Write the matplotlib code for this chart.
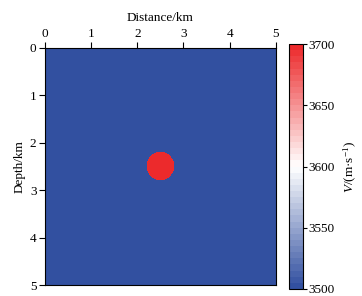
import numpy as np
import matplotlib.pyplot as plt
from matplotlib.colors import LinearSegmentedColormap

plt.rcParams['font.family'] = ['Liberation Serif', 'DejaVu Serif']
plt.rcParams['font.size'] = 9.5
plt.rcParams['mathtext.fontset'] = 'custom'
plt.rcParams['mathtext.rm'] = 'Liberation Serif'
plt.rcParams['mathtext.it'] = 'Liberation Serif:italic'

# model: homogeneous background with one circular anomaly (km, m/s)
v_background = 3500.0
v_anomaly = 3700.0
anomaly_center = (2.5, 2.5)
anomaly_radius = 0.30
x_range = (0.0, 5.0)
z_range = (0.0, 5.0)
x_ticks = [0, 1, 2, 3, 4, 5]
z_ticks = [0, 1, 2, 3, 4, 5]
cbar_ticks = [3500, 3550, 3600, 3650, 3700]

nx = nz = 501
x = np.linspace(x_range[0], x_range[1], nx)
z = np.linspace(z_range[0], z_range[1], nz)
X, Z = np.meshgrid(x, z)
vel = np.full(X.shape, v_background)
inside = (X - anomaly_center[0])**2 + (Z - anomaly_center[1])**2 <= anomaly_radius**2
vel[inside] = v_anomaly

cmap = LinearSegmentedColormap.from_list(
    'bwr_seis', ['#3250a0', '#ffffff', '#ec2a2c'], N=40)

fig = plt.figure(figsize=(3.62, 2.96), dpi=100)
ax = fig.add_axes([0.124, 0.037, 0.638, 0.801])
im = ax.imshow(vel, cmap=cmap, vmin=3500, vmax=3700, origin='upper',
               extent=[x_range[0], x_range[1], z_range[1], z_range[0]],
               aspect='auto', interpolation='nearest')
ax.xaxis.set_label_position('top')
ax.xaxis.tick_top()
ax.set_xticks(x_ticks)
ax.set_yticks(z_ticks)
ax.set_xlabel('Distance/km', labelpad=5)
ax.set_ylabel('Depth/km', labelpad=3)
ax.tick_params(length=4, width=0.8, pad=2)

cax = fig.add_axes([0.798, 0.024, 0.039, 0.827])
cb = fig.colorbar(im, cax=cax, ticks=cbar_ticks)
cb.ax.tick_params(length=3, width=0.8, pad=1)
cb.set_label(r'$V$/(m·s$^{-1}$)', labelpad=5)
cb.outline.set_linewidth(0.8)

plt.savefig('out.png', dpi=100)
